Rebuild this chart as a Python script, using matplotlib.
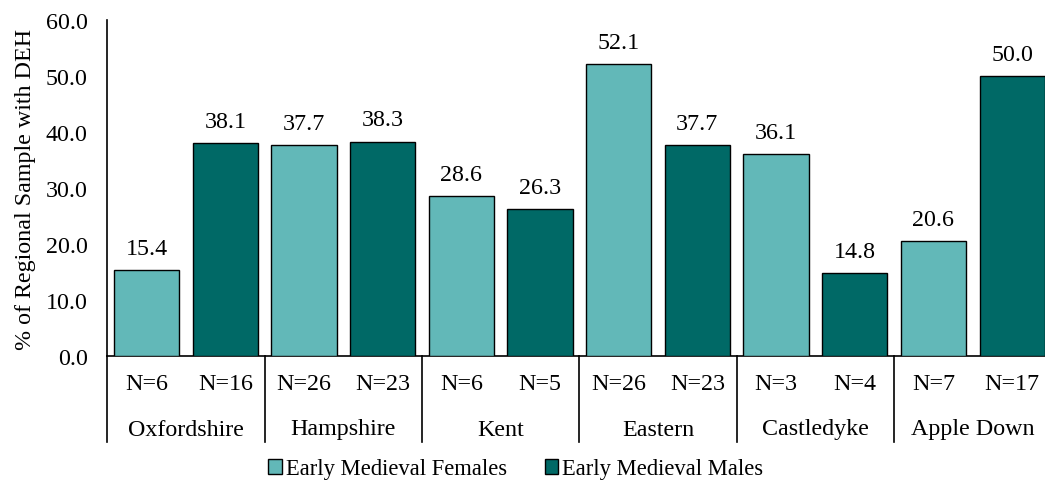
import matplotlib
matplotlib.use("Agg")
import matplotlib.pyplot as plt
from matplotlib.patches import Patch

plt.rcParams['font.family'] = ['Liberation Serif', 'DejaVu Serif']

regions = ["Oxfordshire", "Hampshire", "Kent", "Eastern", "Castledyke", "Apple Down"]
females = [15.4, 37.7, 28.6, 52.1, 36.1, 20.6]
males = [38.1, 38.3, 26.3, 37.7, 14.8, 50.0]
n_females = ["N=6", "N=26", "N=6", "N=26", "N=3", "N=7"]
n_males = ["N=16", "N=23", "N=5", "N=23", "N=4", "N=17"]
yticks = [0, 10, 20, 30, 40, 50, 60]

c_f = "#62B8B8"
c_m = "#006966"
fs = 17.3

W, H = 1045, 489
fig = plt.figure(figsize=(W / 100, H / 100), dpi=100)
left, right, top, bottom = 107.3, 1051.5, 21, 357
ax = fig.add_axes([left / W, 1 - bottom / H, (right - left) / W, (bottom - top) / H])

bw = 0.83
xf = [2 * i + 0.5 for i in range(len(regions))]
xm = [2 * i + 1.5 for i in range(len(regions))]
bf = ax.bar(xf, females, width=bw, color=c_f, edgecolor="black", linewidth=1.0, zorder=3)
bm = ax.bar(xm, males, width=bw, color=c_m, edgecolor="black", linewidth=1.0, zorder=3)

for x, v in list(zip(xf, females)) + list(zip(xm, males)):
    ax.annotate(f"{v:.1f}", (x, v), xytext=(0, 8), textcoords="offset points",
                ha="center", va="bottom", fontsize=fs)

ax.set_xlim(0, 12)
ax.set_ylim(0, 60)
ax.set_yticks(yticks)
ax.set_yticklabels([f"{t:.1f}" for t in yticks], fontsize=fs)
ax.tick_params(axis="y", length=0, pad=14)
ax.set_xticks([])
ax.spines["top"].set_visible(False)
ax.spines["right"].set_visible(False)
ax.spines["left"].set_linewidth(1.2)
ax.spines["bottom"].set_linewidth(1.2)
ax.set_ylabel("% of Regional Sample with DEH", fontsize=fs, labelpad=7)

tr = ax.get_xaxis_transform()
axh = bottom - top
y_n = -(385 - bottom) / axh
y_r = -(430 - bottom) / axh
y_sep = -(443 - bottom) / axh
for i in range(len(regions)):
    ax.text(xf[i], y_n, n_females[i], transform=tr, ha="center", va="center", fontsize=fs)
    ax.text(xm[i], y_n, n_males[i], transform=tr, ha="center", va="center", fontsize=fs)
    ax.text(2 * i + 1, y_r, regions[i], transform=tr, ha="center", va="center", fontsize=fs)
for s in range(0, 13, 2):
    ax.plot([s, s], [0, y_sep], transform=tr, color="black", linewidth=1.2, clip_on=False)

handles = [Patch(facecolor=c_f, edgecolor="black", linewidth=1.0, label="Early Medieval Females"),
           Patch(facecolor=c_m, edgecolor="black", linewidth=1.0, label="Early Medieval Males")]
fig.legend(handles=handles, loc="center", bbox_to_anchor=(516 / W, 1 - 470 / H), ncol=2,
           frameon=False, fontsize=16.3, handlelength=0.58, handleheight=0.58,
           handletextpad=0.18, columnspacing=1.7)

fig.savefig("out.png", dpi=100)
